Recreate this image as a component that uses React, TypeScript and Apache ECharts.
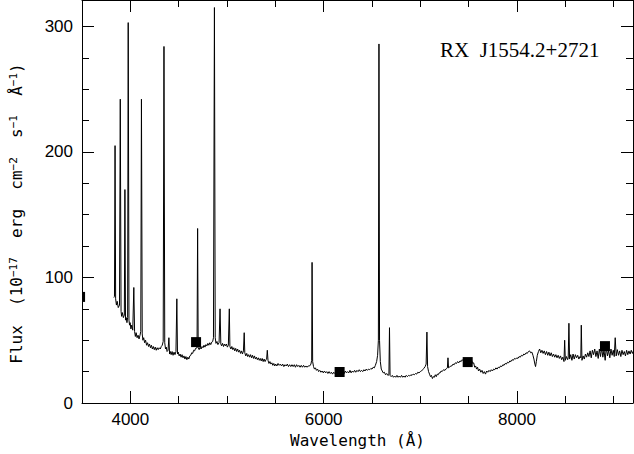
import React, { useEffect, useRef } from "react";
import * as echarts from "echarts";

// Spectrum: [wavelength (Å), flux (1e-17 erg/cm2/s/Å)]
const spectrumBlue: [number, number][] = [
  [3830, 84], [3836, 85], [3842, 205], [3848, 83], [3856, 78], [3864, 81], [3875, 76], [3888, 78],
  [3896, 242], [3904, 73], [3910, 69], [3918, 72], [3928, 68], [3938, 70], [3944, 170], [3950, 66],
  [3958, 68], [3965, 64], [3972, 68], [3978, 303], [3986, 66], [3992, 62], [3998, 64], [4006, 59],
  [4014, 62], [4025, 58], [4036, 92], [4044, 57], [4052, 53], [4060, 56], [4070, 52], [4080, 54],
  [4090, 51], [4100, 54], [4108, 57], [4115, 242], [4123, 55], [4130, 50], [4138, 52], [4148, 48],
  [4158, 50], [4168, 46], [4178, 48], [4188, 45], [4198, 47], [4208, 44], [4218, 46], [4228, 43],
  [4238, 45], [4248, 42.5], [4258, 44.5], [4268, 42], [4278, 44], [4288, 42.5], [4298, 44],
  [4310, 43], [4320, 45], [4330, 46], [4340, 49], [4348, 284], [4356, 48], [4364, 43], [4372, 44.5],
  [4380, 41], [4390, 42], [4399, 52], [4406, 39], [4414, 41], [4422, 38.5], [4432, 41], [4442, 38],
  [4452, 40.5], [4462, 38.5], [4472, 41], [4481, 83], [4488, 39], [4496, 40.5], [4505, 37.5],
  [4515, 39], [4525, 36.5], [4535, 38.5], [4545, 36], [4555, 37.5], [4565, 35], [4575, 37],
  [4585, 34.5], [4595, 36.5], [4605, 35], [4615, 37.5], [4625, 38], [4635, 40], [4645, 39.5],
  [4655, 42], [4665, 41.5], [4675, 43.5], [4690, 44], [4696, 139], [4702, 44], [4712, 42.5],
  [4722, 44.5], [4732, 43], [4742, 45], [4752, 44], [4762, 46], [4772, 44.5], [4782, 46.5],
  [4792, 45.5], [4802, 47.5], [4812, 46], [4822, 48], [4832, 46.5], [4842, 48.5], [4852, 49],
  [4860, 52], [4870, 315], [4878, 52], [4886, 47.5], [4896, 49], [4906, 46.5], [4918, 48],
  [4928, 75], [4936, 47], [4944, 45.5], [4954, 47.5], [4964, 45], [4974, 47], [4984, 45.5],
  [4994, 47], [5004, 44.5], [5014, 46], [5024, 75], [5030, 45], [5040, 43], [5050, 45],
  [5060, 42.5], [5070, 44], [5080, 41.5], [5090, 43.5], [5100, 41], [5110, 43], [5120, 40.5],
  [5130, 42], [5140, 39.5], [5150, 41.5], [5160, 39], [5170, 41.5], [5178, 56], [5184, 40],
  [5194, 37.5], [5204, 39.5], [5214, 37], [5224, 38.5], [5234, 36.5], [5244, 38.5], [5254, 36],
  [5264, 38], [5274, 35.5], [5284, 37.5], [5294, 35], [5304, 36.5], [5314, 34.5], [5324, 36],
  [5334, 34], [5344, 35.5], [5354, 33.5], [5364, 35.5], [5374, 33], [5384, 35], [5394, 33],
  [5404, 34.5], [5410, 35], [5417, 42], [5424, 34], [5434, 31.5], [5444, 33], [5454, 31],
  [5464, 32], [5474, 30], [5484, 31.5], [5494, 29.5], [5504, 31], [5516, 29.5], [5528, 31.5],
  [5540, 30], [5552, 31], [5564, 29.5], [5576, 31], [5588, 29], [5600, 30.5], [5612, 29.5],
  [5624, 31], [5636, 29], [5648, 30.5], [5660, 29], [5672, 30.5], [5684, 29], [5696, 30.5],
  [5708, 28.5], [5720, 30.5], [5732, 29], [5744, 30], [5756, 28.5], [5768, 30], [5780, 28.5],
  [5792, 30], [5804, 28.5], [5816, 29.5], [5828, 28.5], [5840, 29.5], [5855, 29.5], [5868, 31],
  [5876, 34], [5880, 112], [5886, 33], [5895, 29],
];

const spectrumMid: [number, number][] = [
  [5905, 27], [5915, 28], [5925, 26], [5937, 27], [5948, 25], [5960, 26], [5972, 24.5],
  [5984, 25.5], [5996, 24], [6008, 25.5], [6020, 24], [6032, 25], [6044, 23.5], [6056, 25],
  [6068, 23.5], [6080, 24.5], [6092, 23], [6104, 24.5], [6116, 23.5], [6128, 24.5], [6140, 23],
  [6152, 24.5], [6164, 23.5], [6176, 24.5], [6188, 23], [6200, 25], [6212, 23.5], [6224, 25.5],
  [6236, 24], [6248, 25], [6260, 24], [6272, 26], [6284, 24], [6296, 25.5], [6308, 24.5],
  [6320, 26], [6332, 24.5], [6344, 26], [6356, 25], [6368, 26.5], [6380, 25], [6392, 26],
  [6404, 25], [6416, 26.5], [6428, 25.5], [6440, 27], [6452, 26], [6464, 27], [6476, 26.5],
  [6488, 27.5], [6500, 27], [6512, 28.5], [6524, 28], [6535, 30], [6548, 33], [6558, 38],
  [6566, 50], [6572, 286], [6578, 50], [6586, 33], [6596, 27], [6606, 25.5], [6616, 24],
  [6628, 24.5], [6640, 22.5], [6652, 23.5], [6664, 22], [6675, 22.5], [6681, 60], [6687, 22],
  [6698, 21], [6710, 22], [6722, 20.5], [6734, 21.5], [6746, 20.5], [6758, 22], [6770, 20.5],
  [6782, 21.5], [6794, 20.5], [6806, 22], [6818, 20.5], [6830, 21.5], [6842, 20.5], [6854, 22],
  [6866, 21], [6878, 22], [6890, 21.5], [6902, 22.5], [6914, 22], [6926, 23], [6938, 22.5],
  [6950, 23.5], [6962, 23], [6974, 24.5], [6986, 24], [7000, 25], [7012, 25.5], [7024, 26.5],
  [7035, 27.5], [7050, 29], [7060, 31], [7068, 56.5], [7075, 29], [7085, 25], [7095, 23],
  [7105, 21], [7115, 22], [7125, 19.5], [7135, 21], [7145, 20.5], [7155, 22.5], [7165, 21],
  [7175, 23], [7185, 22.5], [7195, 24], [7205, 24], [7215, 25.5], [7225, 25], [7240, 26.5],
  [7255, 26], [7270, 27.5], [7280, 28], [7286, 36], [7292, 28], [7302, 28.5], [7314, 29.5],
  [7326, 29.5], [7338, 31], [7350, 30.5], [7362, 32], [7374, 31.5], [7386, 33], [7398, 32],
  [7410, 33.5], [7422, 33], [7434, 34.5], [7446, 33.5], [7458, 34.5], [7470, 33], [7490, 33.5],
  [7505, 34.5], [7518, 33], [7530, 34],
];

const spectrumRed: [number, number][] = [
  [7542, 31.5], [7552, 32], [7562, 28.5], [7572, 29.5], [7582, 27], [7592, 28.5], [7602, 25.5],
  [7614, 27], [7626, 24.5], [7638, 26], [7650, 23.5], [7662, 25], [7674, 23], [7686, 25.5],
  [7698, 24.5], [7710, 26], [7722, 25], [7734, 26.5], [7746, 25.5], [7758, 27], [7770, 26.5],
  [7782, 28], [7794, 27], [7806, 28.5], [7818, 28], [7830, 29.5], [7842, 29], [7854, 30.5],
  [7866, 30], [7878, 31.5], [7890, 31], [7902, 32.5], [7914, 32], [7926, 33.5], [7938, 33],
  [7950, 34.5], [7962, 34], [7974, 35.5], [7986, 35], [7998, 36], [8010, 35.5], [8022, 37],
  [8034, 36.5], [8046, 38], [8058, 37.5], [8070, 39], [8082, 38.5], [8094, 40], [8106, 39.5],
  [8118, 41], [8130, 41.5], [8142, 40], [8154, 40.5], [8165, 38], [8175, 35], [8185, 31],
  [8192, 29], [8200, 33], [8210, 38], [8222, 41], [8234, 43], [8246, 40], [8258, 42],
  [8270, 39.5], [8282, 41.5], [8294, 38.5], [8306, 41], [8318, 38], [8330, 40.5], [8342, 37.5],
  [8354, 40], [8366, 37], [8378, 39], [8390, 36.5], [8402, 38.5], [8414, 36], [8426, 38],
  [8438, 35.5], [8450, 37.5], [8462, 34.5], [8474, 36.5], [8486, 33], [8493, 50], [8500, 34],
  [8512, 37], [8524, 34.5], [8530, 36], [8537, 63.5], [8544, 35], [8556, 38.5], [8568, 34],
  [8580, 39], [8592, 35], [8604, 38.5], [8616, 36], [8628, 38], [8640, 35], [8652, 37],
  [8660, 36], [8665, 62], [8672, 34], [8684, 37.5], [8696, 35], [8708, 39], [8720, 36.5],
  [8732, 40], [8744, 37], [8756, 41.5], [8768, 36], [8780, 42], [8792, 38.5], [8804, 43],
  [8816, 37], [8828, 41.5], [8840, 35.5], [8852, 43], [8864, 37], [8876, 44], [8888, 36.5],
  [8900, 42], [8912, 34], [8924, 44.5], [8936, 37.5], [8948, 42], [8960, 36], [8972, 43],
  [8984, 38], [8996, 42], [9006, 37], [9016, 52], [9026, 37.5], [9038, 42.5], [9050, 38],
  [9062, 41.5], [9074, 37], [9086, 42], [9098, 38.5], [9110, 41], [9122, 37.5], [9134, 42],
  [9146, 38.5], [9158, 41.5], [9170, 39], [9182, 42], [9194, 39.5], [9200, 41],
];

// Photometric points (filled squares)
const photometryWavelength = [3480, 4680, 6165, 7490, 8910];
const photometryFlux = [84.5, 48.5, 24.7, 32.6, 45.3];

// Axis ticks
const xMajorTicks = [4000, 6000, 8000];
const xMinorTicks = [4500, 5000, 5500, 6500, 7000, 7500, 8500, 9000];
const yMajorTicks = [0, 100, 200, 300];
const yMinorTicks = [25, 50, 75, 125, 150, 175, 225, 250, 275];

const objectName = "RX  J1554.2+2721";

const X_MIN = 3500;
const X_MAX = 9200;
const Y_MIN = 0;
const Y_MAX = 321;

export default function App() {
  const ref = useRef<HTMLDivElement>(null);

  useEffect(() => {
    if (!ref.current) return;
    const chart = echarts.init(ref.current, null, { renderer: "svg" });
    const spectrum = [...spectrumBlue, ...spectrumMid, ...spectrumRed];
    const photometry = photometryWavelength.map((w, i) => [w, photometryFlux[i]]);

    const black = "#000";
    const mono = "DejaVu Sans Mono";
    const lineStyle = { color: black, width: 1 };
    const plain = (v: number) => String(v);

    const xAxis = (position: "top" | "bottom", major: boolean, primary: boolean) => ({
      type: "value",
      min: X_MIN,
      max: X_MAX,
      position,
      splitLine: { show: false },
      axisLine: { show: major, onZero: false, lineStyle },
      axisTick: {
        show: true,
        inside: true,
        length: major ? 12 : 7,
        customValues: major ? xMajorTicks : xMinorTicks,
        lineStyle,
      },
      axisLabel: {
        show: primary,
        customValues: xMajorTicks,
        formatter: plain,
        margin: 8,
        color: black,
        fontFamily: "Liberation Sans",
        fontSize: 17,
      },
      ...(primary
        ? {
            name: "Wavelength (Å)",
            nameLocation: "middle",
            nameGap: 29,
            nameTextStyle: { color: black, fontFamily: mono, fontSize: 16 },
          }
        : {}),
    });

    const yAxis = (position: "left" | "right", major: boolean, primary: boolean) => ({
      type: "value",
      min: Y_MIN,
      max: Y_MAX,
      position,
      splitLine: { show: false },
      axisLine: { show: major, onZero: false, lineStyle },
      axisTick: {
        show: true,
        inside: true,
        length: major ? 12 : 7,
        customValues: major ? yMajorTicks : yMinorTicks,
        lineStyle,
      },
      axisLabel: {
        show: primary,
        customValues: yMajorTicks,
        formatter: plain,
        margin: 9,
        color: black,
        fontFamily: "Liberation Sans",
        fontSize: 17,
      },
      ...(primary
        ? {
            name: "Flux  (10{s|−17}  erg  cm{s|−2}  s{s|−1}  Å{s|−1})",
            nameLocation: "middle",
            nameGap: 58,
            nameTextStyle: {
              color: black,
              fontFamily: mono,
              fontSize: 16,
              padding: [0, 24, 0, 0],
              rich: {
                s: { fontFamily: mono, fontSize: 11, verticalAlign: "top", color: black },
              },
            },
          }
        : {}),
    });

    chart.setOption({
      animation: false,
      backgroundColor: "#fff",
      grid: { left: 77, right: 1, top: 0, bottom: 51, containLabel: false },
      xAxis: [
        xAxis("bottom", true, true),
        xAxis("bottom", false, false),
        xAxis("top", true, false),
        xAxis("top", false, false),
      ],
      yAxis: [
        yAxis("left", true, true),
        yAxis("left", false, false),
        yAxis("right", true, false),
        yAxis("right", false, false),
      ],
      graphic: [
        {
          type: "text",
          left: 440,
          top: 39,
          style: {
            text: objectName,
            fill: black,
            font: '21px "Liberation Serif"',
          },
        },
      ],
      series: [
        {
          type: "line",
          data: spectrum,
          xAxisIndex: 0,
          yAxisIndex: 0,
          symbol: "none",
          showSymbol: false,
          lineStyle: { color: black, width: 1 },
          clip: true,
        },
        {
          type: "custom",
          data: photometry,
          xAxisIndex: 0,
          yAxisIndex: 0,
          clip: true,
          renderItem: (params: any, api: any) => {
            const p = api.coord([api.value(0), api.value(1)]);
            const s = 10;
            const cs = params.coordSys;
            const shape = echarts.graphic.clipRectByRect(
              { x: p[0] - s / 2, y: p[1] - s / 2, width: s, height: s },
              { x: cs.x, y: cs.y, width: cs.width, height: cs.height }
            );
            if (!shape) return null;
            return { type: "rect", shape, style: { fill: black } };
          },
        },
      ],
    });

    return () => chart.dispose();
  }, []);

  return (
    <div
      ref={ref}
      style={{ position: "fixed", left: 0, top: 0, width: 634, height: 454, background: "#fff" }}
    />
  );
}
